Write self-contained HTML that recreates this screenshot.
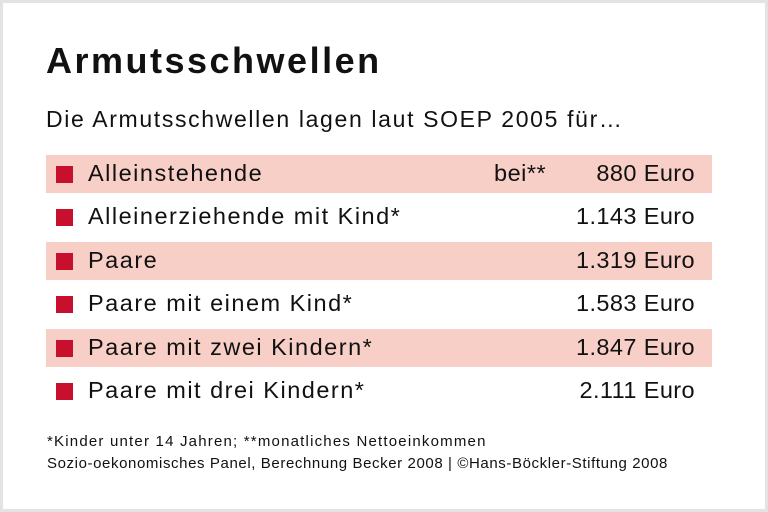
<!DOCTYPE html><html><head><meta charset="utf-8"><style>
body{margin:0;width:768px;height:512px;background:#fff;font-family:"Liberation Sans",sans-serif;color:#111;position:relative;overflow:hidden}
.frame{position:absolute;left:0;top:0;width:762px;height:506px;border:3px solid #e3e3e3}
.t{position:absolute;white-space:nowrap}
.band{position:absolute;left:46px;width:666px;height:38px;background:#f7cfc6}
.sq{position:absolute;left:56px;width:17px;height:17px;background:#c8102e}
.lab{position:absolute;left:88px;font-size:23.5px;letter-spacing:1.5px;white-space:nowrap}
.val{position:absolute;right:73px;font-size:23.5px;letter-spacing:0.4px;white-space:nowrap}
.f{position:absolute;left:47px;font-size:15px;letter-spacing:0.6px;white-space:nowrap}
</style></head><body>
<div class="frame"></div>
<div class="t" style="left:46px;top:40px;font-size:36px;font-weight:bold;letter-spacing:2.5px">Armutsschwellen</div>
<div class="t" style="left:46px;top:106px;font-size:23px;letter-spacing:1.65px">Die Armutsschwellen lagen laut SOEP 2005 für…</div>
<div class="band" style="top:155px"></div>
<div class="band" style="top:242px"></div>
<div class="band" style="top:329px"></div>

<div class="sq" style="top:166px"></div><div class="lab" style="top:160px">Alleinstehende</div>
<div class="t" style="left:494px;top:160px;font-size:23.5px;letter-spacing:0.5px">bei**</div><div class="val" style="top:160px">880 Euro</div>
<div class="sq" style="top:209px"></div><div class="lab" style="top:203px">Alleinerziehende mit Kind*</div><div class="val" style="top:203px">1.143 Euro</div>
<div class="sq" style="top:253px"></div><div class="lab" style="top:247px">Paare</div><div class="val" style="top:247px">1.319 Euro</div>
<div class="sq" style="top:296px"></div><div class="lab" style="top:290px">Paare mit einem Kind*</div><div class="val" style="top:290px">1.583 Euro</div>
<div class="sq" style="top:340px"></div><div class="lab" style="top:334px">Paare mit zwei Kindern*</div><div class="val" style="top:334px">1.847 Euro</div>
<div class="sq" style="top:383px"></div><div class="lab" style="top:377px">Paare mit drei Kindern*</div><div class="val" style="top:377px">2.111 Euro</div>

<div class="f" style="top:433px;letter-spacing:1.2px">*Kinder unter 14 Jahren; **monatliches Nettoeinkommen</div>
<div class="f" style="top:455px">Sozio-oekonomisches Panel, Berechnung Becker 2008 | ©Hans-Böckler-Stiftung 2008</div>
</body></html>
